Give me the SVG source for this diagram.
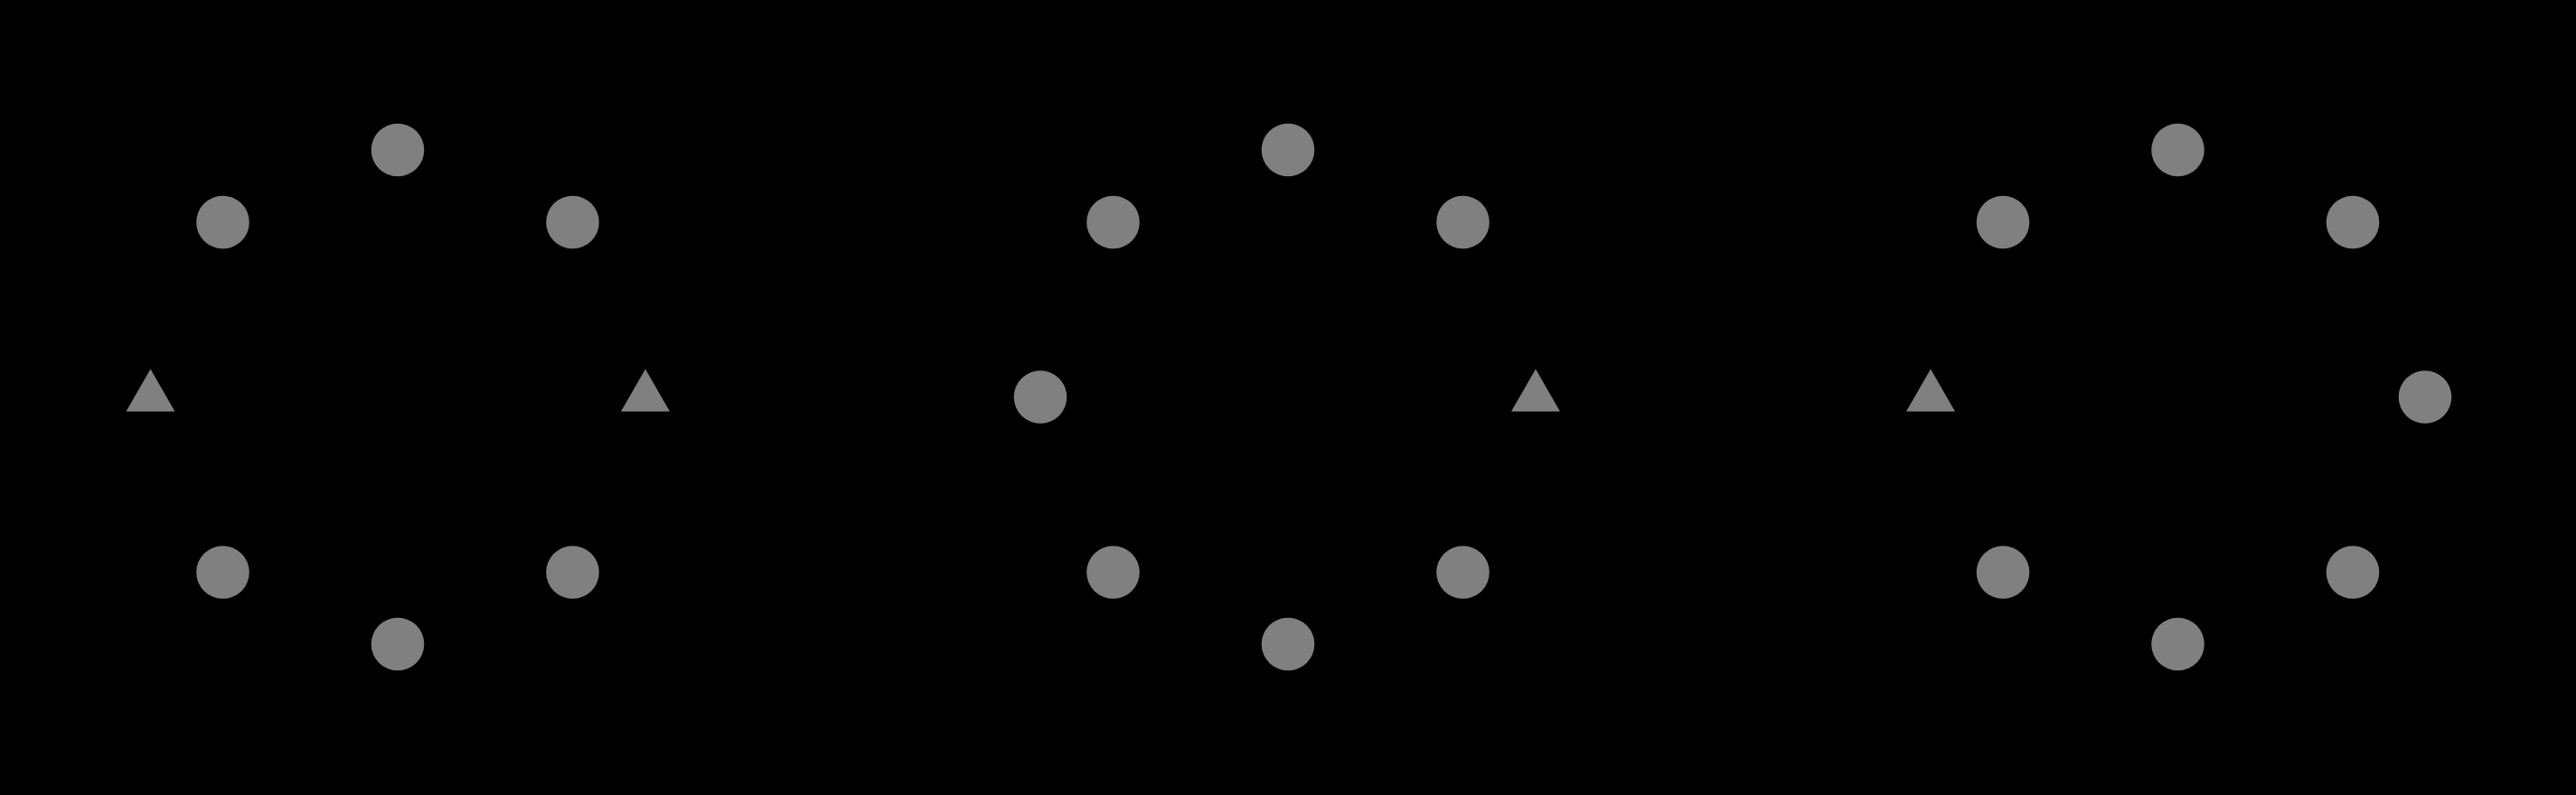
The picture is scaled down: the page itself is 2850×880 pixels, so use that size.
<svg xmlns="http://www.w3.org/2000/svg" width="2850" height="880" viewBox="0 0 2850 880">
<style>
.dot{fill:#808080}
.tri{fill:#808080}
</style>
<defs>
<circle id="c" r="29.3"/>
<polygon id="t" points="0,-31.5 -27,15.5 27,15.5"/>
</defs>
<rect x="0" y="0" width="2850" height="880" fill="#000"/>
<g id="connectors"/>
<g id="panel1">
<g id="p1-n"><use href="#c" class="dot" x="440" y="166"/></g>
<g id="p1-ne"><use href="#c" class="dot" x="633.5" y="246"/></g>
<g id="p1-e"><use href="#t" class="tri" x="714" y="440"/></g>
<g id="p1-se"><use href="#c" class="dot" x="633.5" y="633.5"/></g>
<g id="p1-s"><use href="#c" class="dot" x="440" y="713"/></g>
<g id="p1-sw"><use href="#c" class="dot" x="246.5" y="633.5"/></g>
<g id="p1-w"><use href="#t" class="tri" x="166.5" y="440"/></g>
<g id="p1-nw"><use href="#c" class="dot" x="246.5" y="246"/></g>
</g>
<g id="panel2">
<g id="p2-n"><use href="#c" class="dot" x="1425" y="166"/></g>
<g id="p2-ne"><use href="#c" class="dot" x="1618.5" y="246"/></g>
<g id="p2-e"><use href="#t" class="tri" x="1699" y="440"/></g>
<g id="p2-se"><use href="#c" class="dot" x="1618.5" y="633.5"/></g>
<g id="p2-s"><use href="#c" class="dot" x="1425" y="713"/></g>
<g id="p2-sw"><use href="#c" class="dot" x="1231.5" y="633.5"/></g>
<g id="p2-w"><use href="#c" class="dot" x="1151" y="439.5"/></g>
<g id="p2-nw"><use href="#c" class="dot" x="1231.5" y="246"/></g>
</g>
<g id="panel3">
<g id="p3-n"><use href="#c" class="dot" x="2409.5" y="166"/></g>
<g id="p3-ne"><use href="#c" class="dot" x="2603" y="246"/></g>
<g id="p3-e"><use href="#c" class="dot" x="2683" y="439.5"/></g>
<g id="p3-se"><use href="#c" class="dot" x="2603" y="633.5"/></g>
<g id="p3-s"><use href="#c" class="dot" x="2409.5" y="713"/></g>
<g id="p3-sw"><use href="#c" class="dot" x="2216" y="633.5"/></g>
<g id="p3-w"><use href="#t" class="tri" x="2136" y="440"/></g>
<g id="p3-nw"><use href="#c" class="dot" x="2216" y="246"/></g>
</g>
</svg>
